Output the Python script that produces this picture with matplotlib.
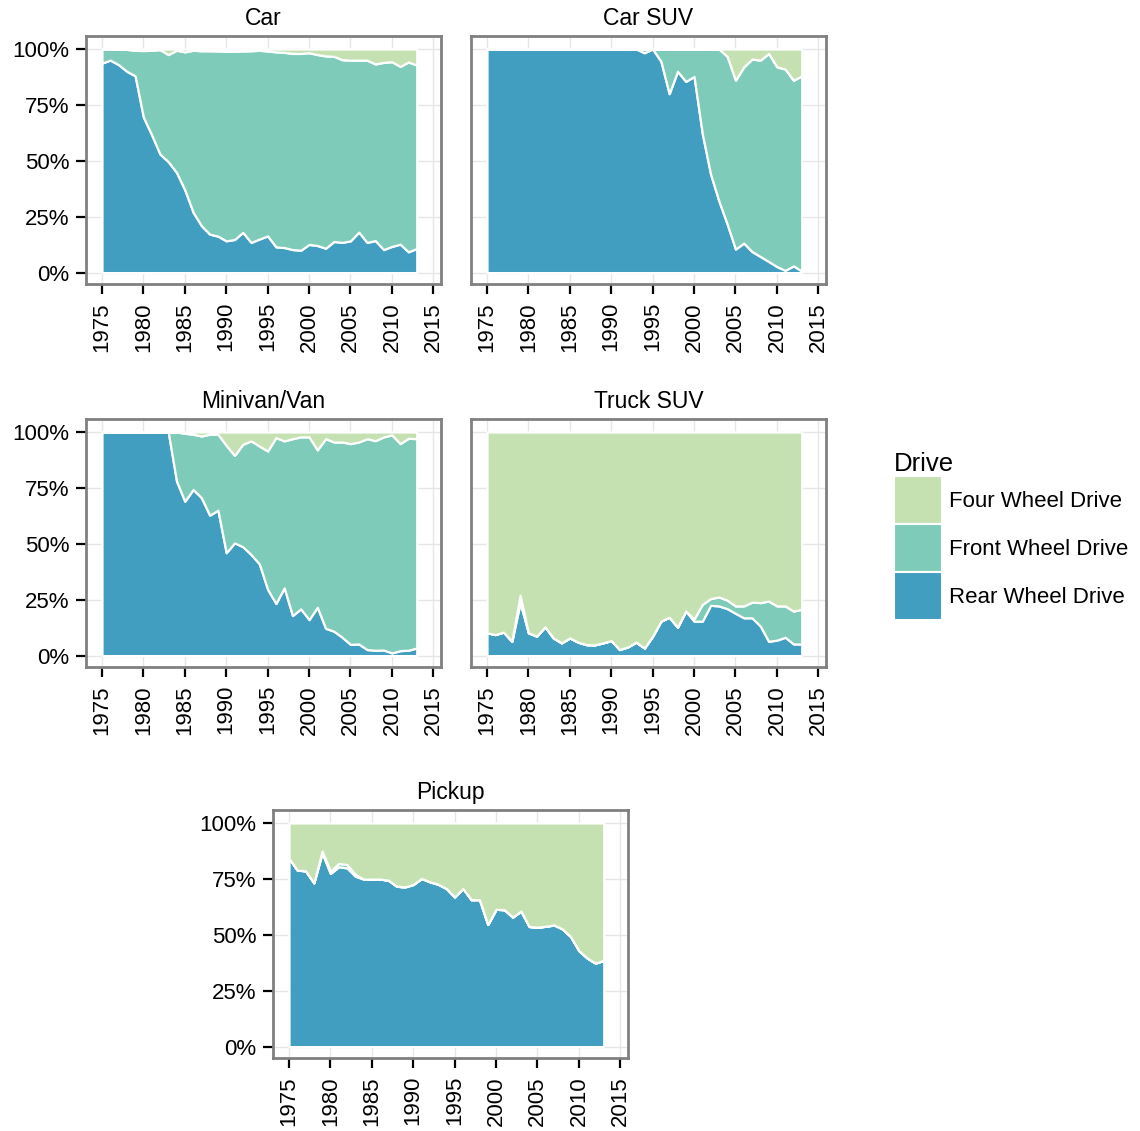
import numpy as np
import matplotlib
matplotlib.use('Agg')
import matplotlib.pyplot as plt
from matplotlib.patches import Patch

plt.rcParams['font.family'] = ['Liberation Sans', 'DejaVu Sans']

years = list(range(1975, 2014))
drives = ['Four Wheel Drive', 'Front Wheel Drive', 'Rear Wheel Drive']
colors = {'Four Wheel Drive': '#c5e1b2',
          'Front Wheel Drive': '#7fcbba',
          'Rear Wheel Drive': '#429ec1'}

# shares in percent, 1975..2013
car_rwd = [93.7, 95, 93, 90, 88, 69.5, 61.6, 53, 49.6, 44.8, 37, 27, 21, 17.2, 16.3,
           14.2, 14.8, 18, 13.5, 15, 16.4, 11.5, 11.2, 10.3, 10, 12.6, 12.1, 10.9,
           13.9, 13.5, 14.2, 18.1, 13.5, 14.3, 10.3, 11.7, 12.7, 9.3, 10.8]
car_fwd = [6.3, 5, 7, 9.8, 11.4, 29.8, 37.8, 46.7, 47.9, 54.6, 61.7, 72.4, 78.2, 82,
           82.8, 84.8, 84.2, 81.1, 85.7, 84.4, 82.7, 87.2, 87.3, 87.7, 88, 85.7, 85.4,
           86, 82.8, 81.7, 80.8, 76.9, 81.5, 79, 83.7, 82.6, 79.5, 84.9, 82]
car_4wd = [0, 0, 0, 0.2, 0.6, 0.7, 0.6, 0.3, 2.5, 0.6, 1.3, 0.6, 0.8, 0.8, 0.9, 1, 1,
           0.9, 0.8, 0.6, 0.9, 1.3, 1.5, 2, 2, 1.7, 2.5, 3.1, 3.3, 4.8, 5, 5, 5, 6.7,
           6, 5.7, 7.8, 5.8, 7.2]

carsuv_rwd = [100] * 19 + [98.3, 100, 94.5, 80, 90, 85.5, 87.7, 62, 44, 32, 21.7, 10.5,
                           13.2, 9.4, 7.2, 5, 2.7, 1, 3, 0.7]
carsuv_fwd = [0] * 19 + [1.7, 0, 5.5, 20, 10, 14.5, 12.3, 38, 56, 68, 75, 75.5, 78.8,
                         86.1, 87.8, 93, 89.3, 90, 83, 87.3]
carsuv_4wd = [0] * 29 + [3.3, 14, 8, 4.5, 5, 2, 8, 9, 14, 12]

van_rwd = [100] * 9 + [78, 69, 74.3, 70.6, 62.8, 65, 46, 50.4, 48.7, 45.2, 41, 29.6,
                       23.3, 30.3, 17.9, 20.9, 16.1, 21.6, 12.2, 10.9, 8.2, 5, 5.2, 2.7,
                       2.4, 2.5, 1.2, 2.2, 2.4, 3.4]
van_fwd = [0] * 9 + [22, 30.4, 24.7, 27.6, 36.2, 34, 48, 39.1, 45.8, 50.8, 52.7, 61.9,
                     74.2, 65.7, 79.1, 76.9, 81.7, 70.4, 84.8, 84.6, 87.3, 89.8, 90.3,
                     94.3, 93.7, 95.3, 97.5, 92.6, 94.8, 93.6]
van_4wd = [0] * 10 + [0.6, 1, 1.8, 1, 1, 6, 10.5, 5.5, 4, 6.3, 8.5, 2.5, 4, 3, 2.2, 2.2,
                      8, 3, 4.5, 4.5, 5.2, 4.5, 3, 3.9, 2.2, 1.3, 5.2, 2.8, 3]

trksuv_rwd = [10.2, 9.4, 10.5, 6.4, 23.6, 10.2, 8.7, 12.9, 7.9, 5.7, 7.9, 6, 4.9, 4.8,
              5.7, 6.7, 2.7, 3.9, 6, 3.4, 8.7, 15.4, 17.2, 12.7, 19.9, 15.4, 15.4, 22.5,
              22.2, 21, 18.9, 16.9, 16.9, 13.2, 6.4, 6.9, 8.2, 5.2, 5.2]
trksuv_fwd = [0, 0, 0, 0, 3.4] + [0] * 20 + [1, 7.5, 3, 4, 3.8, 3.3, 5.3, 7, 10.5, 18,
                                             15.3, 14, 14.7, 15.5]
trksuv_4wd = [89.8, 90.6, 89.5, 93.6, 73, 89.8, 91.3, 87.1, 92.1, 94.3, 92.1, 94, 95.1,
              95.2, 94.3, 93.3, 97.3, 96.1, 94, 96.6, 91.3, 84.6, 82.8, 87.3, 80.1, 83.6,
              77.1, 74.5, 73.8, 75.2, 77.8, 77.8, 76.1, 76.3, 75.6, 77.8, 77.8, 80.1, 79.3]

pickup_rwd = [84.2, 78.9, 78.6, 73.2, 86.5, 77.4, 80.4, 79.9, 76.2, 74.9, 74.9, 74.9,
              74.4, 71.7, 71.4, 72.5, 75.2, 73.7, 72.6, 70.7, 66.9, 70.7, 65.7, 65.7,
              54.6, 61.4, 61.2, 57.9, 60.6, 53.7, 53.4, 53.8, 54.4, 52.6, 49.2, 42.9,
              39.6, 37.3, 38.6]
pickup_fwd = [0, 0, 0, 0, 1, 1, 1.5, 1.5, 0.8] + [0] * 30
pickup_4wd = [15.8, 21.1, 21.4, 26.8, 12.5, 21.6, 18.1, 18.6, 23, 25.1, 25.1, 25.1, 25.6,
              28.3, 28.6, 27.5, 24.8, 26.3, 27.4, 29.3, 33.1, 29.3, 34.3, 34.3, 45.4,
              38.6, 38.8, 42.1, 39.4, 46.3, 46.6, 46.2, 45.6, 47.4, 50.8, 57.1, 60.4,
              62.7, 61.4]

# title, series, panel top-left in pixels, show y axis
panels = [
    ('Car', car_rwd, car_fwd, car_4wd, (86, 36), True),
    ('Car SUV', carsuv_rwd, carsuv_fwd, carsuv_4wd, (471, 36), False),
    ('Minivan/Van', van_rwd, van_fwd, van_4wd, (86, 419), True),
    ('Truck SUV', trksuv_rwd, trksuv_fwd, trksuv_4wd, (471, 419), False),
    ('Pickup', pickup_rwd, pickup_fwd, pickup_4wd, (273, 810), True),
]

W, H = 1140, 1131
fig = plt.figure(figsize=(W / 100, H / 100), dpi=100)
pw, ph = 355, 248

for title, rwd, fwd, fw4, (px, py), yaxis in panels:
    ax = fig.add_axes([px / W, 1 - (py + ph) / H, pw / W, ph / H])
    ax.stackplot(years, rwd, fwd, fw4,
                 colors=[colors['Rear Wheel Drive'], colors['Front Wheel Drive'],
                         colors['Four Wheel Drive']],
                 edgecolor='white', linewidth=1.6)
    ax.set_xlim(1973.07, 2015.93)
    ax.set_ylim(-5.1, 105.8)
    ax.set_xticks(range(1975, 2016, 5))
    ax.set_xticklabels([str(y) for y in range(1975, 2016, 5)], rotation=90)
    ax.set_yticks([0, 25, 50, 75, 100])
    ax.set_yticklabels(['0%', '25%', '50%', '75%', '100%'])
    ax.grid(True, color='#e6e6e6', linewidth=1)
    ax.set_axisbelow(True)
    for s in ax.spines.values():
        s.set_color('#808080')
        s.set_linewidth(2)
    ax.tick_params(direction='out', length=7, width=1.6, color='black',
                   labelsize=16)
    ax.tick_params(axis='x', pad=6)
    ax.tick_params(axis='y', pad=5)
    if not yaxis:
        ax.tick_params(axis='y', left=False, labelleft=False)
    ax.set_title(title, fontsize=16.5, pad=8)

handles = [Patch(facecolor=colors[d], edgecolor='white', linewidth=1.5) for d in drives]
leg = fig.legend(handles, drives, loc='upper left',
                 bbox_to_anchor=(883 / W, 1 - 441 / H), frameon=False,
                 fontsize=16, title='Drive', title_fontsize=18.5,
                 handlelength=2.15, handleheight=2.95, labelspacing=0.0,
                 handletextpad=0.3, borderpad=0, alignment='left')

fig.savefig('out.png', dpi=100)
